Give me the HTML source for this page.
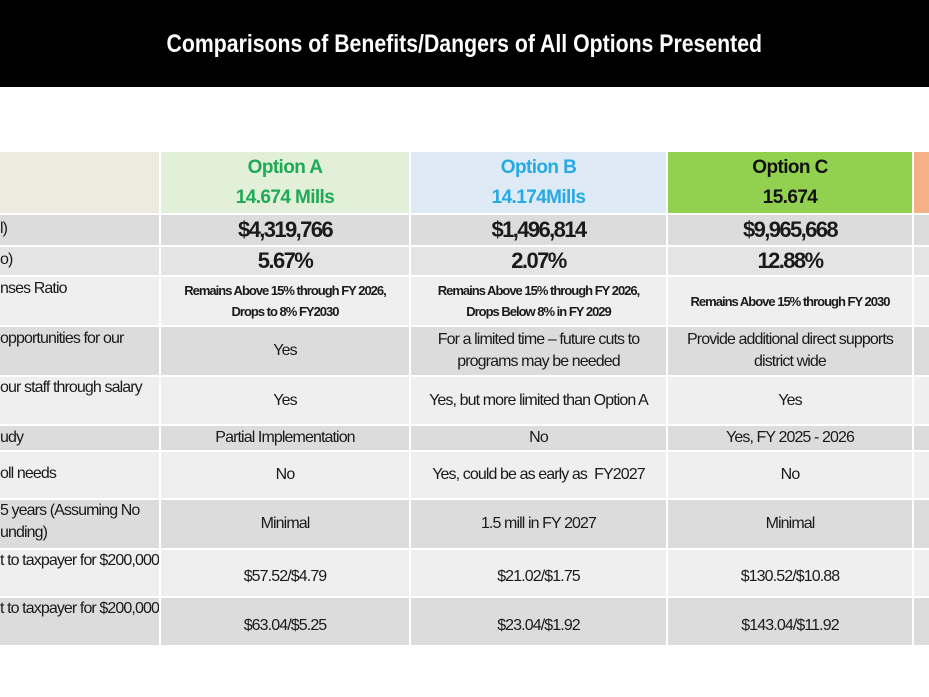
<!DOCTYPE html>
<html><head><meta charset="utf-8"><style>
body{margin:0;width:929px;height:697px;background:#fff;position:relative;overflow:hidden;font-family:"Liberation Sans Narrow","Liberation Sans",sans-serif;color:#1a1a1a}
.bar{position:absolute;left:0;top:0;width:929px;height:87px;background:#000;color:#fff;font-weight:bold;font-size:25px;display:flex;align-items:center;justify-content:center}
.bar span{display:inline-block;transform:scaleX(0.85);padding-top:2px}
.c{position:absolute;display:flex;align-items:center;justify-content:center;text-align:center;font-size:16px;letter-spacing:-0.9px;line-height:22px}
.l{position:absolute;font-size:16px;letter-spacing:-0.9px;line-height:22px;left:0;width:159px;white-space:nowrap;overflow:hidden}
.h{font-family:"Liberation Sans",sans-serif;font-weight:bold;font-size:19px;letter-spacing:-0.6px;line-height:30px;flex-direction:column}
.b{font-weight:bold;font-size:22px;letter-spacing:-1.6px}
.s{font-weight:bold;font-size:13px;letter-spacing:-1px;line-height:21px}
</style></head><body>
<div class="bar"><span>Comparisons of Benefits/Dangers of All Options Presented</span></div>

<div class="c" style="left:0;top:152px;width:159px;height:61px;background:#edeae0"></div>
<div class="c h" style="left:161px;top:152px;width:248px;height:61px;background:#e2efd9;color:#1faa55"><div>Option A</div><div>14.674 Mills</div></div>
<div class="c h" style="left:411px;top:152px;width:255px;height:61px;background:#deebf6;color:#27a9e1"><div>Option B</div><div>14.174Mills</div></div>
<div class="c h" style="left:668px;top:152px;width:244px;height:61px;background:#92d050;color:#111"><div>Option C</div><div>15.674</div></div>
<div class="c" style="left:914px;top:152px;width:15px;height:61px;background:#f4b183"></div>

<div style="position:absolute;left:0;top:215px;width:159px;height:30px;background:#dcdcdc"></div>
<div class="l" style="top:218px">l)</div>
<div class="c b" style="left:161px;top:215px;width:248px;height:30px;background:#dcdcdc">$4,319,766</div>
<div class="c b" style="left:411px;top:215px;width:255px;height:30px;background:#dcdcdc">$1,496,814</div>
<div class="c b" style="left:668px;top:215px;width:244px;height:30px;background:#dcdcdc">$9,965,668</div>
<div class="c" style="left:914px;top:215px;width:15px;height:30px;background:#dcdcdc"></div>

<div style="position:absolute;left:0;top:247px;width:159px;height:28px;background:#e4e4e4"></div>
<div class="l" style="top:249px">o)</div>
<div class="c b" style="left:161px;top:247px;width:248px;height:28px;background:#e4e4e4">5.67%</div>
<div class="c b" style="left:411px;top:247px;width:255px;height:28px;background:#e4e4e4">2.07%</div>
<div class="c b" style="left:668px;top:247px;width:244px;height:28px;background:#e4e4e4">12.88%</div>
<div class="c" style="left:914px;top:247px;width:15px;height:28px;background:#e4e4e4"></div>

<div style="position:absolute;left:0;top:277px;width:159px;height:48px;background:#efefef"></div>
<div class="l" style="top:278px">nses Ratio</div>
<div class="c s" style="left:161px;top:277px;width:248px;height:48px;background:#efefef">Remains Above 15% through FY 2026,<br>Drops to 8% FY2030</div>
<div class="c s" style="left:411px;top:277px;width:255px;height:48px;background:#efefef">Remains Above 15% through FY 2026,<br>Drops Below 8% in FY 2029</div>
<div class="c s" style="left:668px;top:277px;width:244px;height:48px;background:#efefef">Remains Above 15% through FY 2030</div>
<div class="c" style="left:914px;top:277px;width:15px;height:48px;background:#efefef"></div>

<div style="position:absolute;left:0;top:327px;width:159px;height:48px;background:#dcdcdc"></div>
<div class="l" style="top:328px">opportunities for our</div>
<div class="c" style="left:161px;top:327px;width:248px;height:48px;background:#dcdcdc">Yes</div>
<div class="c" style="left:411px;top:327px;width:255px;height:48px;background:#dcdcdc">For a limited time – future cuts to<br>programs may be needed</div>
<div class="c" style="left:668px;top:327px;width:244px;height:48px;background:#dcdcdc">Provide additional direct supports<br>district wide</div>
<div class="c" style="left:914px;top:327px;width:15px;height:48px;background:#dcdcdc"></div>

<div style="position:absolute;left:0;top:377px;width:159px;height:47px;background:#efefef"></div>
<div class="l" style="top:377px">our staff through salary</div>
<div class="c" style="left:161px;top:377px;width:248px;height:47px;background:#efefef">Yes</div>
<div class="c" style="left:411px;top:377px;width:255px;height:47px;background:#efefef">Yes, but more limited than Option A</div>
<div class="c" style="left:668px;top:377px;width:244px;height:47px;background:#efefef">Yes</div>
<div class="c" style="left:914px;top:377px;width:15px;height:47px;background:#efefef"></div>

<div style="position:absolute;left:0;top:426px;width:159px;height:24px;background:#dcdcdc"></div>
<div class="l" style="top:427px">udy</div>
<div class="c" style="left:161px;top:426px;width:248px;height:24px;background:#dcdcdc">Partial Implementation</div>
<div class="c" style="left:411px;top:426px;width:255px;height:24px;background:#dcdcdc">No</div>
<div class="c" style="left:668px;top:426px;width:244px;height:24px;background:#dcdcdc">Yes, FY 2025 - 2026</div>
<div class="c" style="left:914px;top:426px;width:15px;height:24px;background:#dcdcdc"></div>

<div style="position:absolute;left:0;top:452px;width:159px;height:46px;background:#efefef"></div>
<div class="l" style="top:463px">oll needs</div>
<div class="c" style="left:161px;top:452px;width:248px;height:46px;background:#efefef">No</div>
<div class="c" style="left:411px;top:452px;width:255px;height:46px;background:#efefef">Yes, could be as early as&nbsp; FY2027</div>
<div class="c" style="left:668px;top:452px;width:244px;height:46px;background:#efefef">No</div>
<div class="c" style="left:914px;top:452px;width:15px;height:46px;background:#efefef"></div>

<div style="position:absolute;left:0;top:500px;width:159px;height:48px;background:#dcdcdc"></div>
<div class="l" style="top:500px">5 years (Assuming No<br>unding)</div>
<div class="c" style="left:161px;top:500px;width:248px;height:48px;background:#dcdcdc">Minimal</div>
<div class="c" style="left:411px;top:500px;width:255px;height:48px;background:#dcdcdc">1.5 mill in FY 2027</div>
<div class="c" style="left:668px;top:500px;width:244px;height:48px;background:#dcdcdc">Minimal</div>
<div class="c" style="left:914px;top:500px;width:15px;height:48px;background:#dcdcdc"></div>

<div style="position:absolute;left:0;top:550px;width:159px;height:46px;background:#efefef"></div>
<div class="l" style="top:550px">t to taxpayer for $200,000</div>
<div class="c" style="left:161px;top:550px;width:248px;height:46px;background:#efefef;padding-top:8px;box-sizing:border-box">$57.52/$4.79</div>
<div class="c" style="left:411px;top:550px;width:255px;height:46px;background:#efefef;padding-top:8px;box-sizing:border-box">$21.02/$1.75</div>
<div class="c" style="left:668px;top:550px;width:244px;height:46px;background:#efefef;padding-top:8px;box-sizing:border-box">$130.52/$10.88</div>
<div class="c" style="left:914px;top:550px;width:15px;height:46px;background:#efefef"></div>

<div style="position:absolute;left:0;top:598px;width:159px;height:47px;background:#dcdcdc"></div>
<div class="l" style="top:598px">t to taxpayer for $200,000</div>
<div class="c" style="left:161px;top:598px;width:248px;height:47px;background:#dcdcdc;padding-top:8px;box-sizing:border-box">$63.04/$5.25</div>
<div class="c" style="left:411px;top:598px;width:255px;height:47px;background:#dcdcdc;padding-top:8px;box-sizing:border-box">$23.04/$1.92</div>
<div class="c" style="left:668px;top:598px;width:244px;height:47px;background:#dcdcdc;padding-top:8px;box-sizing:border-box">$143.04/$11.92</div>
<div class="c" style="left:914px;top:598px;width:15px;height:47px;background:#dcdcdc"></div>
</body></html>
